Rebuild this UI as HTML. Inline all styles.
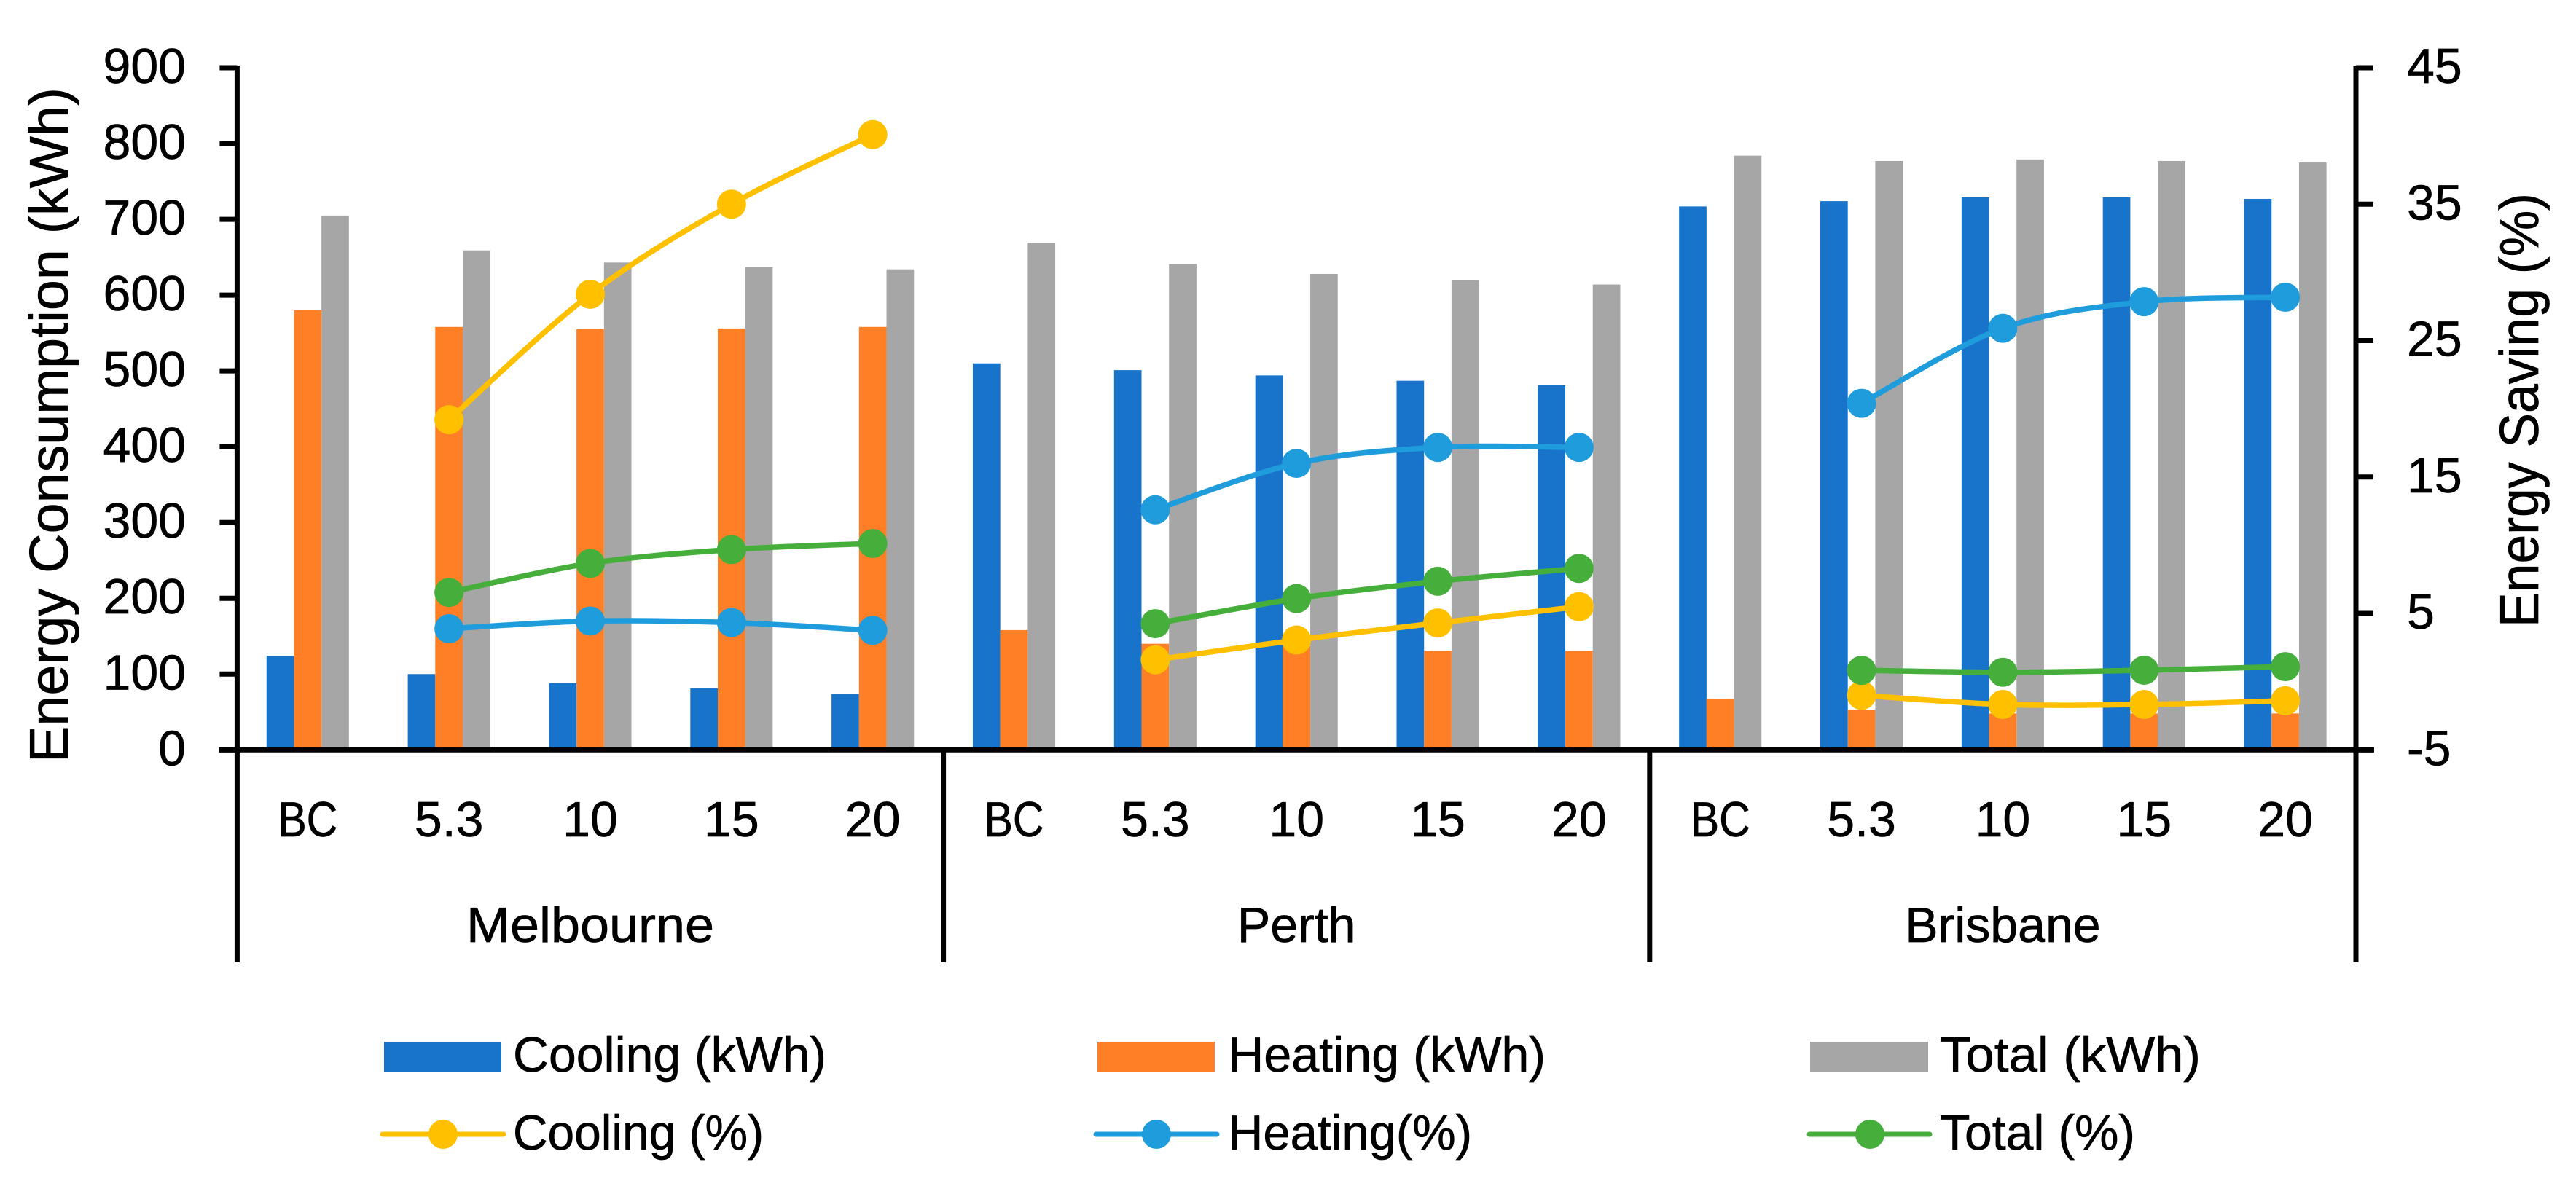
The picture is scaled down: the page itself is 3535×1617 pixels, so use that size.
<!DOCTYPE html>
<html lang="en">
<head>
<meta charset="utf-8">
<title>Energy Consumption and Saving</title>
<style>
html,body{margin:0;padding:0;background:#fff;}
svg{display:block;}
text{font-family:"Liberation Sans",sans-serif;font-size:68px;fill:#000;stroke:#000;stroke-width:0.7px;}
text.title{font-size:75px;}
</style>
</head>
<body>
<svg id="chart" xmlns="http://www.w3.org/2000/svg" width="3535" height="1617" viewBox="0 0 3535 1617">
  <rect x="0" y="0" width="3535" height="1617" fill="#ffffff"/>
  <g id="bars"></g>
  <g id="axes"></g>
  <g id="lines"></g>

  <text class="title" transform="translate(93,1047) rotate(-90)" textLength="927" lengthAdjust="spacingAndGlyphs">Energy Consumption (kWh)</text>
  <text class="title" transform="translate(3483,861) rotate(-90)" textLength="596" lengthAdjust="spacingAndGlyphs">Energy Saving (%)</text>

  <g>
    <rect x="527" y="1430" width="161" height="42" fill="#1874CB"/>
    <text x="704" y="1471" textLength="430" lengthAdjust="spacingAndGlyphs">Cooling (kWh)</text>
    <rect x="1506" y="1430" width="161" height="42" fill="#FF7F27"/>
    <text x="1685" y="1471" textLength="436" lengthAdjust="spacingAndGlyphs">Heating (kWh)</text>
    <rect x="2484" y="1430" width="162" height="42" fill="#A6A6A6"/>
    <text x="2662" y="1471" textLength="358" lengthAdjust="spacingAndGlyphs">Total (kWh)</text>

    <line x1="525" y1="1557" x2="691" y2="1557" stroke="#FFC000" stroke-width="7" stroke-linecap="round"/>
    <circle cx="608" cy="1557" r="20" fill="#FFC000"/>
    <text x="704" y="1578" textLength="344" lengthAdjust="spacingAndGlyphs">Cooling (%)</text>
    <line x1="1504" y1="1557" x2="1670" y2="1557" stroke="#1F9CDB" stroke-width="7" stroke-linecap="round"/>
    <circle cx="1587" cy="1557" r="20" fill="#1F9CDB"/>
    <text x="1685" y="1578" textLength="335" lengthAdjust="spacingAndGlyphs">Heating(%)</text>
    <line x1="2483" y1="1557" x2="2648" y2="1557" stroke="#46AF3C" stroke-width="7" stroke-linecap="round"/>
    <circle cx="2566" cy="1557" r="20" fill="#46AF3C"/>
    <text x="2662" y="1578" textLength="268" lengthAdjust="spacingAndGlyphs">Total (%)</text>
  </g>
</svg>
<script>
/* ---- data ---- */
var cities = ["Melbourne", "Perth", "Brisbane"];
var cases = ["BC", "5.3", "10", "15", "20"];
var leftTicks = [0, 100, 200, 300, 400, 500, 600, 700, 800, 900];
var rightTicks = [-5, 5, 15, 25, 35, 45];

var coolingKwh = [124, 100, 88, 81, 74,   510, 501, 494, 487, 481,   717, 724, 729, 729, 727];
var heatingKwh = [580, 558, 555, 556, 558,   158, 140, 137, 131, 131,   67, 53, 48, 48, 48];
var totalKwh   = [705, 659, 643, 637, 634,   669, 641, 628, 620, 614,   784, 777, 779, 777, 775];

var coolingPct = [null, 19.2, 28.4, 35.0, 40.1,   null, 1.6, 3.05, 4.3, 5.5,   null, -1.0, -1.67, -1.67, -1.4];
var heatingPct = [null, 3.88, 4.44, 4.33, 3.76,   null, 12.6, 16.0, 17.17, 17.17,   null, 20.4, 25.9, 27.85, 28.18];
var totalPct   = [null, 6.54, 8.67, 9.68, 10.13,   null, 4.25, 6.09, 7.36, 8.3,   null, 0.83, 0.69, 0.84, 1.1];

/* ---- layout ---- */
var NS = "http://www.w3.org/2000/svg";
var plotLeft = 325.4, plotRight = 3233, plotTop = 93, plotBottom = 1029.3, axisEnd = 1320.7;
var step = (plotRight - plotLeft) / (cities.length * cases.length);
var barW = 37.7;

function xBand(i) { return plotLeft + step * (i + 0.5); }
function yLeft(v) { return plotBottom - (v - 0) / 900 * (plotBottom - plotTop); }
function yRight(v) { return plotBottom - (v + 5) / 50 * (plotBottom - plotTop); }

function make(tag, attrs, parent) {
  var el = document.createElementNS(NS, tag);
  for (var k in attrs) el.setAttribute(k, attrs[k]);
  parent.appendChild(el);
  return el;
}

var barsG = document.getElementById("bars");
var axesG = document.getElementById("axes");
var linesG = document.getElementById("lines");

/* ---- bars ---- */
function drawBars(values, colour, offset, name) {
  values.forEach(function (v, i) {
    var top = yLeft(v);
    var el = make("rect", {x: xBand(i) + offset * barW - barW / 2, y: top, width: barW, height: plotBottom - top, fill: colour}, barsG);
    
    
  });
}
drawBars(coolingKwh, "#1874CB", -1, "cooling-kwh");
drawBars(heatingKwh, "#FF7F27", 0, "heating-kwh");
drawBars(totalKwh, "#A6A6A6", 1, "total-kwh");

/* ---- axes ---- */
function axisLine(x1, y1, x2, y2, w, name) {
  var el = make("line", {x1: x1, y1: y1, x2: x2, y2: y2, stroke: "#000", "stroke-width": w}, axesG);
  
  
}
axisLine(plotLeft, plotTop - 3, plotLeft, axisEnd, 7, "left-axis-line");
axisLine(plotRight, plotTop - 3, plotRight, axisEnd, 7, "right-axis-line");
axisLine(plotLeft - 25, plotBottom, plotRight + 25, plotBottom, 7, "x-axis-line");
for (var c = 1; c < cities.length; c++) {
  var sx = plotLeft + step * cases.length * c;
  axisLine(sx, plotBottom, sx, axisEnd, 7, "city-separator");
}

leftTicks.forEach(function (t) {
  var y = yLeft(t);
  axisLine(plotLeft - 24, y, plotLeft, y, 7, "left-tick");
  var el = make("text", {x: 255, y: y + 21, "text-anchor": "end"}, axesG);
  el.textContent = t;
  
  
});
rightTicks.forEach(function (t) {
  var y = yRight(t);
  axisLine(plotRight, y, plotRight + 24, y, 7, "right-tick");
  var el = make("text", {x: 3303, y: y + 21}, axesG);
  el.textContent = t;
  
  
});

cities.forEach(function (city, ci) {
  cases.forEach(function (label, li) {
    var idx = ci * cases.length + li;
    var el = make("text", {x: xBand(idx), y: 1148, "text-anchor": "middle"}, axesG);
    if (label === "BC") el.setAttribute("textLength", 82);
    if (label === "BC") el.setAttribute("lengthAdjust", "spacingAndGlyphs");
    el.textContent = label;
    
    
  });
  var cx = plotLeft + step * cases.length * (ci + 0.5);
  var g = make("text", {x: cx, y: 1293, "text-anchor": "middle"}, axesG);
  if (city === "Melbourne") g.setAttribute("textLength", 340);
  if (city === "Melbourne") g.setAttribute("lengthAdjust", "spacingAndGlyphs");
  g.textContent = city;
  
  
});

/* ---- smoothed line series, drawn per city ---- */
function smoothPath(pts) {
  var d = "M" + pts[0][0] + " " + pts[0][1];
  for (var i = 0; i < pts.length - 1; i++) {
    var p0 = pts[Math.max(i - 1, 0)], p1 = pts[i], p2 = pts[i + 1], p3 = pts[Math.min(i + 2, pts.length - 1)];
    d += " C" + (p1[0] + (p2[0] - p0[0]) / 6) + " " + (p1[1] + (p2[1] - p0[1]) / 6) +
         " " + (p2[0] - (p3[0] - p1[0]) / 6) + " " + (p2[1] - (p3[1] - p1[1]) / 6) +
         " " + p2[0] + " " + p2[1];
  }
  return d;
}
function drawSeries(values, colour, name) {
  for (var c = 0; c < cities.length; c++) {
    var pts = [];
    for (var k = 0; k < cases.length; k++) {
      var idx = c * cases.length + k;
      if (values[idx] !== null) pts.push([xBand(idx), yRight(values[idx])]);
    }
    var path = make("path", {d: smoothPath(pts), fill: "none", stroke: colour, "stroke-width": 7.5, "stroke-linecap": "round"}, linesG);
    
    
    pts.forEach(function (p) {
      var dot = make("circle", {cx: p[0], cy: p[1], r: 20, fill: colour}, linesG);
      
      
    });
  }
}
drawSeries(coolingPct, "#FFC000", "cooling-pct");
drawSeries(heatingPct, "#1F9CDB", "heating-pct");
drawSeries(totalPct, "#46AF3C", "total-pct");
</script>
</body>
</html>
